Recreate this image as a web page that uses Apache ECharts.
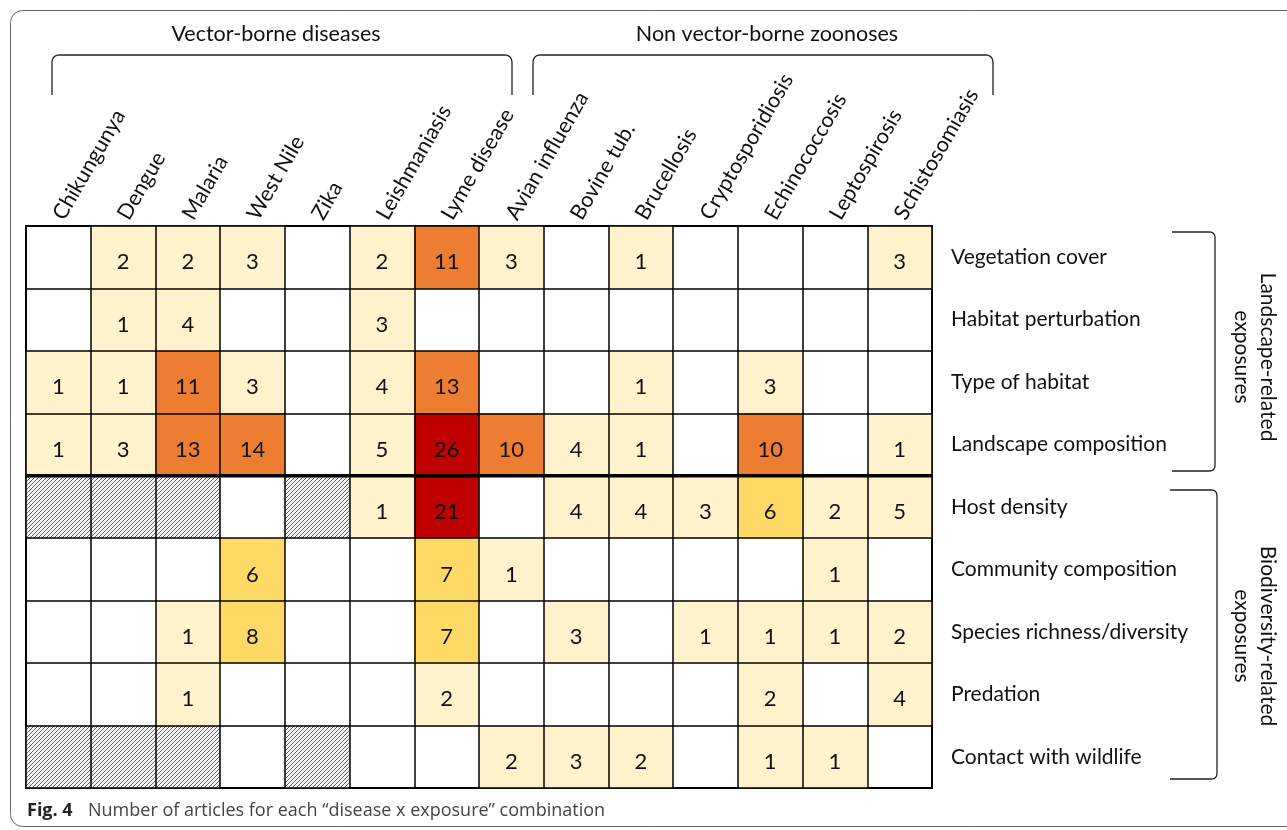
<!DOCTYPE html>
<html>
<head>
<meta charset="utf-8">
<script src="https://cdn.jsdelivr.net/npm/echarts@6/dist/echarts.min.js"></script>
<style>
  html, body { margin: 0; padding: 0; background: #fff; }
  #chart { width: 1287px; height: 830px; }
</style>
</head>
<body>
<div id="chart"></div>
<script>
// diseases (columns) and exposures (rows)
var diseases = ['Chikungunya', 'Dengue', 'Malaria', 'West Nile', 'Zika', 'Leishmaniasis', 'Lyme disease',
  'Avian influenza', 'Bovine tub.', 'Brucellosis', 'Cryptosporidiosis', 'Echinococcosis', 'Leptospirosis', 'Schistosomiasis'];
var exposures = ['Vegetation cover', 'Habitat perturbation', 'Type of habitat', 'Landscape composition',
  'Host density', 'Community composition', 'Species richness/diversity', 'Predation', 'Contact with wildlife'];

// number of articles, one array per exposure (null = none)
var vegetationCover      = [null, 2, 2, 3, null, 2, 11, 3, null, 1, null, null, null, 3];
var habitatPerturbation  = [null, 1, 4, null, null, 3, null, null, null, null, null, null, null, null];
var typeOfHabitat        = [1, 1, 11, 3, null, 4, 13, null, null, 1, null, 3, null, null];
var landscapeComposition = [1, 3, 13, 14, null, 5, 26, 10, 4, 1, null, 10, null, 1];
var hostDensity          = [null, null, null, null, null, 1, 21, null, 4, 4, 3, 6, 2, 5];
var communityComposition = [null, null, null, 6, null, null, 7, 1, null, null, null, null, 1, null];
var speciesRichness      = [null, null, 1, 8, null, null, 7, null, 3, null, 1, 1, 1, 2];
var predation            = [null, null, 1, null, null, null, 2, null, null, null, null, 2, null, 4];
var contactWildlife      = [null, null, null, null, null, null, null, 2, 3, 2, null, 1, 1, null];

// not applicable cells (hatched): [disease index, exposure index]
var notApplicable = [[0, 4], [1, 4], [2, 4], [4, 4], [0, 8], [1, 8], [2, 8], [4, 8]];

var rows = [vegetationCover, habitatPerturbation, typeOfHabitat, landscapeComposition,
  hostDensity, communityComposition, speciesRichness, predation, contactWildlife];

var cells = [];
rows.forEach(function (r, y) {
  r.forEach(function (v, x) {
    if (v != null) cells.push([x, y, v]);
  });
});
var naCells = notApplicable.map(function (p) { return [p[0], p[1], 0]; });

var FONT = 'Lato';

// hatch pattern
var hatch = document.createElement('canvas');
hatch.width = 4; hatch.height = 4;
var hc = hatch.getContext('2d');
hc.fillStyle = '#f4f4f4';
hc.fillRect(0, 0, 4, 4);
hc.strokeStyle = '#666';
hc.lineWidth = 1;
hc.beginPath();
hc.moveTo(-1, 5); hc.lineTo(5, -1);
hc.moveTo(-1, 1); hc.lineTo(1, -1);
hc.moveTo(3, 5); hc.lineTo(5, 3);
hc.stroke();

// small rounded corner as polyline points
function corner(pts, cx, cy, fx, fy, tx, ty) {
  for (var i = 0; i <= 6; i++) {
    var t = i / 6;
    pts.push([(1 - t) * (1 - t) * fx + 2 * t * (1 - t) * cx + t * t * tx,
              (1 - t) * (1 - t) * fy + 2 * t * (1 - t) * cy + t * t * ty]);
  }
}
function topBracket(x1, x2, yTop, yBot) {
  var p = [[x1, yBot]];
  corner(p, x1, yTop, x1, yTop + 8, x1 + 8, yTop);
  corner(p, x2, yTop, x2 - 8, yTop, x2, yTop + 8);
  p.push([x2, yBot]);
  return { type: 'polyline', shape: { points: p }, style: { fill: null, stroke: '#222', lineWidth: 1.3 }, silent: true };
}
function rightBracket(x1, x2, yTop, yBot) {
  var p = [[x1, yTop]];
  corner(p, x2, yTop, x2 - 6, yTop, x2, yTop + 6);
  corner(p, x2, yBot, x2, yBot - 6, x2 - 6, yBot);
  p.push([x1, yBot]);
  return { type: 'polyline', shape: { points: p }, style: { fill: null, stroke: '#222', lineWidth: 1.3 }, silent: true };
}

var chart = echarts.init(document.getElementById('chart'));

chart.setOption({
  backgroundColor: '#fff',
  animation: false,
  grid: { left: 26, right: 355, top: 226, bottom: 42, show: true, borderColor: '#000', borderWidth: 2, z: 0 },
  xAxis: {
    type: 'category',
    position: 'top',
    data: diseases,
    z: 5,
    axisLine: { show: false },
    axisTick: { show: false },
    axisLabel: { rotate: -60, margin: 8, fontFamily: FONT, fontSize: 21.5, color: '#111', interval: 0 },
    splitLine: { show: true, interval: 0, lineStyle: { color: '#000', width: 1.5 } }
  },
  yAxis: {
    type: 'category',
    position: 'right',
    inverse: true,
    data: exposures,
    z: 5,
    axisLine: { show: false },
    axisTick: { show: false },
    axisLabel: { margin: 19, fontFamily: FONT, fontSize: 21, color: '#111', align: 'left' },
    splitLine: { show: true, interval: 0, lineStyle: { color: '#000', width: 1.5 } }
  },
  visualMap: {
    show: false,
    type: 'piecewise',
    seriesIndex: 0,
    dimension: 2,
    pieces: [
      { gte: 1, lte: 5, color: '#FFF2CC' },
      { gte: 6, lte: 9, color: '#FFD966' },
      { gte: 10, lte: 20, color: '#ED7D31' },
      { gte: 21, lte: 100, color: '#C00000' }
    ]
  },
  series: [
    {
      type: 'heatmap',
      data: cells,
      z: 2,
      label: { show: true, fontFamily: FONT, fontSize: 22, color: '#111', offset: [0, 5] },
      emphasis: { disabled: true }
    },
    {
      type: 'heatmap',
      data: naCells,
      z: 2,
      label: { show: false },
      itemStyle: { color: { image: hatch, repeat: 'repeat' } },
      emphasis: { disabled: true }
    }
  ],
  graphic: [
    { type: 'rect', shape: { x: 10.5, y: 10.5, width: 1300, height: 816, r: 12 }, style: { fill: null, stroke: '#666', lineWidth: 1 }, silent: true },
    { type: 'text', x: 276, y: 34, style: { text: 'Vector-borne diseases', font: '21.5px ' + FONT, fill: '#111', textAlign: 'center', textVerticalAlign: 'middle' } },
    { type: 'text', x: 767, y: 34, style: { text: 'Non vector-borne zoonoses', font: '21.5px ' + FONT, fill: '#111', textAlign: 'center', textVerticalAlign: 'middle' } },
    topBracket(52, 512, 55, 95),
    topBracket(533, 993, 55, 95),
    rightBracket(1172, 1215, 232, 471),
    rightBracket(1170, 1217, 490, 779),
    { type: 'text', x: 1255, y: 357, rotation: -Math.PI / 2, style: { text: 'Landscape-related\nexposures', font: '21px ' + FONT, lineHeight: 26, fill: '#111', textAlign: 'center', textVerticalAlign: 'middle' } },
    { type: 'text', x: 1255, y: 636, rotation: -Math.PI / 2, style: { text: 'Biodiversity-related\nexposures', font: '21px ' + FONT, lineHeight: 26, fill: '#111', textAlign: 'center', textVerticalAlign: 'middle' } },
    { type: 'text', x: 27, y: 811, style: { text: 'Fig. 4', font: 'bold 18px "Open Sans"', fill: '#222', textVerticalAlign: 'middle' } },
    { type: 'text', x: 88, y: 811, style: { text: 'Number of articles for each \u201cdisease x exposure\u201d combination', font: '18px "Open Sans"', fill: '#444', textVerticalAlign: 'middle' } }
  ]
});

// thicker separator between landscape and biodiversity exposures
var yA = chart.convertToPixel({ yAxisIndex: 0 }, exposures[3]);
var yB = chart.convertToPixel({ yAxisIndex: 0 }, exposures[4]);
var xL = chart.convertToPixel({ xAxisIndex: 0 }, diseases[0]);
var xR = chart.convertToPixel({ xAxisIndex: 0 }, diseases[diseases.length - 1]);
var half = (xR - xL) / (diseases.length - 1) / 2;
chart.setOption({
  graphic: [{
    type: 'line', id: 'sep', z: 10,
    shape: { x1: xL - half, y1: (yA + yB) / 2, x2: xR + half, y2: (yA + yB) / 2 },
    style: { stroke: '#000', lineWidth: 3.5 }
  }]
});
</script>
</body>
</html>
